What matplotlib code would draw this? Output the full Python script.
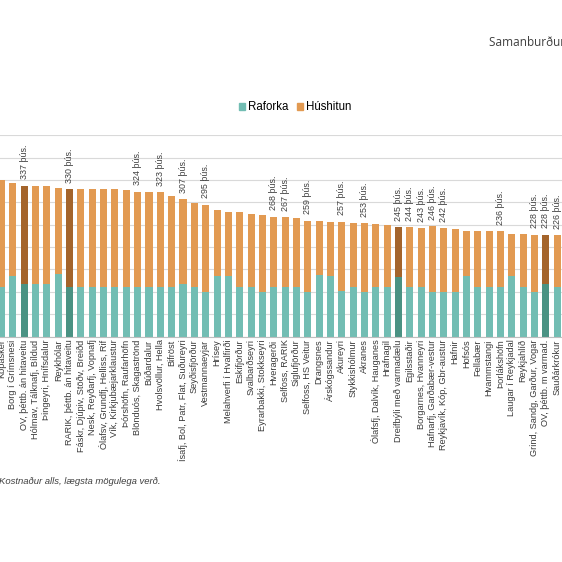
import numpy as np
import matplotlib
matplotlib.use("Agg")
import matplotlib.pyplot as plt
from matplotlib.patches import Patch

plt.rcParams['font.family'] = ['Liberation Sans', 'DejaVu Sans']

places = [
    "Kópasker", "Borg í Grímsnesi", "OV, þéttb. án hitaveitu", "Hólmav, Tálknafj, Bíldud",
    "Þingeyri, Hnífsdalur", "Reykhólar", "RARIK, þéttb. án hitaveitu",
    "Fáskr, Djúpiv, Stöðv, Breiðd", "Nesk, Reyðarfj, Vopnafj", "Ólafsv, Grundfj, Helliss, Rif",
    "Vík, Kirkjubæjarklaustur", "Þórshöfn, Raufarhöfn", "Blönduós, Skagaströnd", "Búðardalur",
    "Hvolsvöllur, Hella", "Bifröst", "Ísafj, Bol, Patr, Flat, Suðureyri", "Seyðisfjörður",
    "Vestmannaeyjar", "Hrísey", "Melahverfi í Hvalfirði", "Eskifjörður", "Svalbarðseyri",
    "Eyrarbakki, Stokkseyri", "Hveragerði", "Selfoss, RARIK", "Siglufjörður",
    "Selfoss, HS Veitur", "Drangsnes", "Árskógssandur", "Akureyri", "Stykkishólmur",
    "Akranes", "Ólafsfj, Dalvík, Hauganes", "Hrafnagil", "Dreifbýli með varmadælu",
    "Egilsstaðir", "Borgarnes, Hvanneyri", "Hafnarfj, Garðabær-vestur",
    "Reykjavík, Kóp, Gbr-austur", "Hafnir", "Hofsós", "Fellabær", "Hvammstangi",
    "Þorlákshöfn", "Laugar í Reykjadal", "Reykjahlíð", "Grind, Sandg, Garður, Vogar",
    "OV, þéttb. m varmad.", "Sauðárkrókur",
]

total = [350, 342, 337, 336, 336, 331, 330, 329, 329, 329, 329, 328, 324, 324, 323,
         314, 307, 298, 295, 282, 279, 279, 274, 272, 268, 267, 265, 259, 258, 257,
         257, 253, 253, 252, 249, 245, 244, 243, 246, 242, 240, 237, 237, 236, 236,
         229, 229, 228, 228, 226]

raforka = [111, 135, 118, 118, 118, 140, 111, 111, 111, 111, 111, 111, 111, 111, 111,
           111, 118, 111, 100, 135, 135, 111, 111, 100, 111, 111, 111, 100, 138, 135,
           103, 111, 100, 111, 111, 134, 111, 111, 100, 99, 100, 135, 111, 111, 111,
           135, 111, 100, 118, 111]

labeled = [3, 7, 13, 15, 17, 19, 25, 26, 28, 31, 33, 36, 37, 38, 39, 40, 45, 48, 49, 50]
highlight = [3, 7, 36, 49]

husitun = [t - r for t, r in zip(total, raforka)]

teal, orange = "#72bdb3", "#e29a52"
teal_dark, orange_dark = "#4a9283", "#a4642b"

x = np.arange(len(places))
col_r = [teal_dark if i + 1 in highlight else teal for i in x]
col_h = [orange_dark if i + 1 in highlight else orange for i in x]

fig = plt.figure(figsize=(5.62, 5.62), dpi=100)
ax = fig.add_axes([-0.00724, 0.4009, 1.0087, 0.3587])

ax.bar(x, raforka, width=0.62, color=col_r, zorder=2)
ax.bar(x, husitun, width=0.62, bottom=raforka, color=col_h, zorder=2)

for i in labeled:
    ax.annotate(f"{total[i - 1]} þús.", (i - 1, total[i - 1]), xytext=(0, 4.5),
                textcoords="offset points", rotation=90, ha="center", va="bottom",
                fontsize=6.4, color="#404040")

ax.set_xlim(-0.5, len(places) - 0.5)
ax.set_ylim(0, 450)
ax.set_yticks(np.arange(0, 451, 50))
ax.yaxis.grid(True, color="#d9d9d9", lw=0.8, zorder=0)
ax.tick_params(axis="y", left=False, labelleft=False)
ax.set_xticks(x)
ax.set_xticklabels(places, rotation=90, fontsize=6.6, color="#3a3a3a")
ax.tick_params(axis="x", length=0, pad=2)
for s in ["top", "left", "right"]:
    ax.spines[s].set_visible(False)
ax.spines["bottom"].set_color("#bfbfbf")

handles = [Patch(color=teal, label="Raforka"), Patch(color=orange, label="Húshitun")]
fig.legend(handles=handles, loc="center", bbox_to_anchor=(0.525, 0.809), ncol=2,
           frameon=False, fontsize=8.3, handlelength=0.55, handleheight=0.55,
           handletextpad=0.25, columnspacing=0.7, borderpad=0)

fig.text(489 / 562, 1 - 42 / 562, "Samanburður á kostnaði", fontsize=8.5,
         family=["Open Sans", "DejaVu Sans"], color="#404040", va="center")
fig.text(160 / 562, 1 - 482 / 562, "Kostnaður alls, lægsta mögulega verð.",
         fontsize=6.8, style="italic", color="#404040", ha="right", va="center")

fig.savefig("out.png", dpi=100)
